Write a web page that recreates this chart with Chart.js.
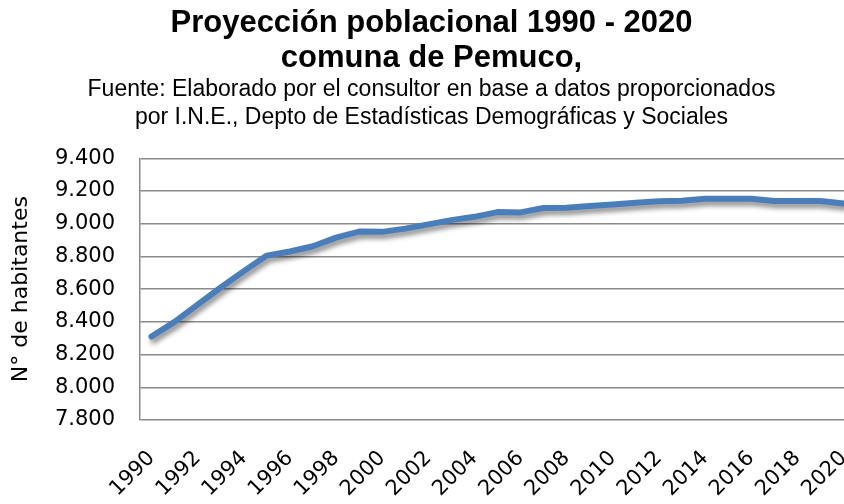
<!DOCTYPE html>
<html>
<head>
<meta charset="utf-8">
<script src="https://cdn.jsdelivr.net/npm/chart.js@4"></script>
<style>
html,body{margin:0;padding:0;overflow:hidden;background:#ffffff;}
#wrap{width:855px;height:504px;}
</style>
</head>
<body>
<div id="wrap"><canvas id="c" width="855" height="504"></canvas></div>
<script>
const years = [1990,1991,1992,1993,1994,1995,1996,1997,1998,1999,2000,2001,2002,2003,2004,2005,2006,2007,2008,2009,2010,2011,2012,2013,2014,2015,2016,2017,2018,2019,2020];
const population = [8310,8400,8505,8610,8710,8805,8830,8862,8915,8952,8950,8970,8996,9022,9042,9071,9069,9096,9097,9108,9118,9128,9137,9140,9153,9153,9153,9139,9139,9139,9123];
const yMin = 7800;
const yMax = 9400;
const yStep = 200;
const titleLines = ['Proyección poblacional 1990 - 2020', 'comuna de Pemuco,'];
const subtitleLines = ['Fuente: Elaborado por el consultor en base a datos proporcionados', 'por I.N.E., Depto de Estadísticas Demográficas y Sociales'];
const yTitle = 'N° de habitantes';

function fmt(v){ return String(v).replace(/\B(?=(\d{3})+(?!\d))/g, '.'); }

const shadowPlugin = {
  id: 'lineShadow',
  beforeDatasetDraw(chart){
    const ctx = chart.ctx;
    ctx.save();
    ctx.shadowColor = 'rgba(0,0,0,0.45)';
    ctx.shadowBlur = 5;
    ctx.shadowOffsetX = 2;
    ctx.shadowOffsetY = 4;
  },
  afterDatasetDraw(chart){ chart.ctx.restore(); }
};

new Chart(document.getElementById('c'), {
  type: 'line',
  data: {
    labels: years.map(String),
    datasets: [{
      data: population,
      borderColor: '#4a7ebb',
      borderWidth: 6,
      borderCapStyle: 'round',
      borderJoinStyle: 'round',
      pointRadius: 0,
      pointHoverRadius: 0,
      tension: 0,
      fill: false
    }]
  },
  options: {
    responsive: false,
    animation: false,
    events: [],
    layout: { padding: { left: 8, right: 0, top: 0, bottom: 0 } },
    plugins: {
      legend: { display: false },
      tooltip: { enabled: false },
      title: {
        display: true,
        text: titleLines,
        color: '#000000',
        font: { family: '"Liberation Sans", Arial, sans-serif', size: 31, weight: 'bold', lineHeight: 1.13 },
        padding: { top: 6, bottom: 0 }
      },
      subtitle: {
        display: true,
        text: subtitleLines,
        color: '#000000',
        font: { family: '"Liberation Sans", Arial, sans-serif', size: 23, weight: 'normal', lineHeight: 1.2 },
        padding: { top: 0, bottom: 27 }
      }
    },
    scales: {
      x: {
        type: 'category',
        offset: true,
        grid: { display: false, drawTicks: false },
        border: { display: false },
        ticks: {
          autoSkip: false,
          minRotation: 45,
          maxRotation: 45,
          padding: 26,
          color: '#000000',
          font: { family: '"DejaVu Sans", sans-serif', size: 21 },
          callback: function(val, idx){ return idx % 2 === 0 ? String(years[idx]) : ''; }
        },
        afterFit: function(s){ s.height = 84; s.paddingLeft = 0; s.paddingRight = 0; }
      },
      y: {
        min: yMin,
        max: yMax,
        grid: { color: '#8a8a8a', lineWidth: 1.5, drawTicks: false },
        border: { display: true, color: '#8a8a8a', width: 1.5 },
        ticks: {
          stepSize: yStep,
          padding: 25,
          color: '#000000',
          font: { family: '"DejaVu Sans", sans-serif', size: 21 },
          callback: function(v){ return fmt(v); }
        },
        title: {
          display: true,
          text: yTitle,
          color: '#000000',
          font: { family: '"DejaVu Sans", sans-serif', size: 22 },
          padding: { top: 0, bottom: 0 }
        },
        afterFit: function(s){ s.width = 132; }
      }
    }
  },
  plugins: [shadowPlugin]
});
</script>
</body>
</html>
